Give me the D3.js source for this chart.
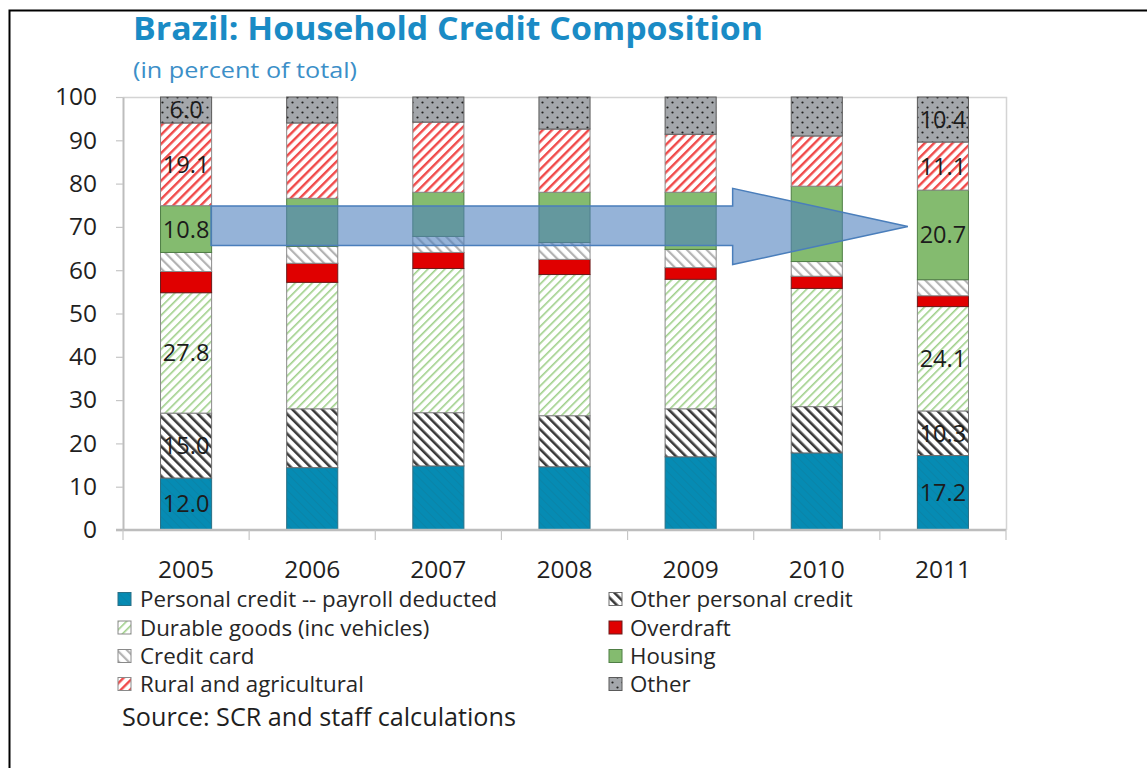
<!DOCTYPE html>
<html>
<head>
<meta charset="utf-8">
<script src="https://cdn.jsdelivr.net/npm/d3@7"></script>
<style>
  html, body { margin: 0; padding: 0; background: #fff; }
  svg { display: block; }
  text { font-family: "Open Sans", "Noto Sans", sans-serif; }
</style>
</head>
<body>
<svg id="chart" width="1147" height="768"></svg>
<script>
// ---------- DATA ----------
const years = ["2005", "2006", "2007", "2008", "2009", "2010", "2011"];
const seriesNames = [
  "Personal credit -- payroll deducted",
  "Other personal credit",
  "Durable goods (inc vehicles)",
  "Overdraft",
  "Credit card",
  "Housing",
  "Rural and agricultural",
  "Other"
];
const payroll       = [12.0, 14.4, 14.8, 14.6, 16.9, 17.8, 17.2];
const otherPersonal = [15.0, 13.6, 12.3, 11.8, 11.1, 10.7, 10.3];
const durable       = [27.8, 29.2, 33.3, 32.6, 29.9, 27.3, 24.1];
const overdraft     = [4.9, 4.4, 3.7, 3.5, 2.7, 2.8, 2.5];
const creditCard    = [4.4, 3.9, 3.7, 3.9, 4.2, 3.4, 3.7];
const housing       = [10.8, 11.1, 10.2, 11.6, 13.2, 17.4, 20.7];
const rural         = [19.1, 17.4, 16.2, 14.6, 13.4, 11.6, 11.1];
const other         = [6.0, 6.0, 5.8, 7.4, 8.6, 9.0, 10.4];
const seriesValues = [payroll, otherPersonal, durable, overdraft, creditCard, housing, rural, other];
const yTicks = [0, 10, 20, 30, 40, 50, 60, 70, 80, 90, 100];
const labelledYears = ["2005", "2011"];
const labelledSeries = [0, 1, 2, 5, 6, 7];

// ---------- LAYOUT ----------
const svg = d3.select("#chart");
const pLeft = 123, pRight = 1006, pTop = 97, pBottom = 530;

const x = d3.scaleBand().domain(years).range([pLeft, pRight]).paddingInner(0.595).paddingOuter(0.2975);
const xi = d3.scaleLinear().domain([0, years.length]).range([pLeft, pRight]);
const y = d3.scaleLinear().domain([0, 100]).range([pBottom, pTop]);

// ---------- PATTERNS ----------
const defs = svg.append("defs");
function stripe(id, color, size, width, angle, bg) {
  const p = defs.append("pattern").attr("id", id).attr("patternUnits", "userSpaceOnUse")
    .attr("width", size).attr("height", size).attr("patternTransform", `rotate(${angle})`);
  p.append("rect").attr("width", size).attr("height", size).attr("fill", bg || "#fff");
  p.append("rect").attr("x", 0).attr("y", 0).attr("width", width).attr("height", size).attr("fill", color);
}
stripe("pPayroll", "#0a84a8", 6, 1, -45, "#068bb3");
stripe("pOtherPers", "#3a3a3a", 7, 2.6, -45);
stripe("pDurable", "#9fd08a", 6, 1.6, 45);
stripe("pCard", "#b3b3b3", 7, 2.2, -45);
stripe("pRural", "#f04a4a", 6.5, 2.4, 45);
(function () {
  const p = defs.append("pattern").attr("id", "pOther").attr("patternUnits", "userSpaceOnUse")
    .attr("width", 10).attr("height", 10);
  p.append("rect").attr("width", 10).attr("height", 10).attr("fill", "#a4a7ab");
  p.append("circle").attr("cx", 2.5).attr("cy", 2.5).attr("r", 1.1).attr("fill", "#202020");
  p.append("circle").attr("cx", 7.5).attr("cy", 7.5).attr("r", 1.1).attr("fill", "#202020");
})();
const fills = ["url(#pPayroll)", "url(#pOtherPers)", "url(#pDurable)", "#e00000",
               "url(#pCard)", "#84bb6f", "url(#pRural)", "url(#pOther)"];
const strokes = ["#2a6f85", "#6d6d6d", "#8a8a8a", "#6b1a1a", "#8a8a8a", "#4f7e45", "#8a8a8a", "#5a5a5a"];

// ---------- OUTER FRAME ----------
svg.append("path").attr("d", "M1147,10.5 H9.5 V768").attr("fill", "none").attr("stroke", "#000").attr("stroke-width", 2);

// ---------- TITLE ----------
svg.append("text").attr("x", 133).attr("y", 40).attr("font-size", 31.5).attr("font-weight", 700)
  .attr("textLength", 630).attr("lengthAdjust", "spacingAndGlyphs")
  .attr("fill", "#1a8bc5").text("Brazil: Household Credit Composition");
svg.append("text").attr("x", 133).attr("y", 78).attr("font-size", 22)
  .attr("textLength", 224).attr("lengthAdjust", "spacingAndGlyphs")
  .attr("fill", "#3c8fc8").text("(in percent of total)");

// ---------- PLOT BORDER ----------
svg.append("path").attr("d", `M${pLeft},${pTop + 0.5} H${pRight + 0.5} V${pBottom}`)
  .attr("fill", "none").attr("stroke", "#d4d4d4").attr("stroke-width", 1.5);

// ---------- BARS ----------
const rows = years.map((yr, i) => {
  const r = { year: yr };
  seriesNames.forEach((s, k) => r[s] = seriesValues[k][i]);
  return r;
});
const stacked = d3.stack().keys(seriesNames)(rows);
const gBars = svg.append("g");
stacked.forEach((layer, k) => {
  gBars.selectAll(null).data(layer).enter().append("rect")
    .attr("x", d => x(d.data.year))
    .attr("width", x.bandwidth())
    .attr("y", d => y(d[1]))
    .attr("height", d => y(d[0]) - y(d[1]))
    .attr("fill", fills[k])
    .attr("stroke", strokes[k])
    .attr("stroke-width", 1);
});

// ---------- AXES ----------
const yAxis = svg.append("g").attr("transform", `translate(${pLeft},0)`)
  .call(d3.axisLeft(y).tickValues(yTicks).tickSize(7).tickSizeOuter(0).tickPadding(19));
yAxis.select(".domain").attr("stroke", "#bdbdbd").attr("stroke-width", 2);
yAxis.selectAll(".tick line").attr("stroke", "#c6c6c6").attr("stroke-width", 1.2);
yAxis.selectAll(".tick text").attr("font-size", 24.5).attr("fill", "#1f1f1f")
  .attr("font-family", "'Open Sans', sans-serif");

const xAxis = svg.append("g").attr("transform", `translate(0,${pBottom})`);
xAxis.append("line").attr("x1", pLeft - 7).attr("x2", pRight).attr("y1", 0).attr("y2", 0)
  .attr("stroke", "#bdbdbd").attr("stroke-width", 2.5);
xAxis.selectAll(null).data(d3.range(years.length + 1)).enter().append("line")
  .attr("x1", d => xi(d)).attr("x2", d => xi(d)).attr("y1", 0).attr("y2", 10)
  .attr("stroke", "#c6c6c6").attr("stroke-width", 1.2);
xAxis.selectAll(null).data(years).enter().append("text")
  .attr("x", d => x(d) + x.bandwidth() / 2).attr("y", 47.5)
  .attr("text-anchor", "middle").attr("font-size", 24.5).attr("fill", "#1f1f1f").text(d => d);

// ---------- DATA LABELS ----------
stacked.forEach((layer, k) => {
  if (!labelledSeries.includes(k)) return;
  layer.filter(d => labelledYears.includes(d.data.year)).forEach(d => {
    svg.append("text")
      .attr("x", x(d.data.year) + x.bandwidth() / 2)
      .attr("y", (y(d[0]) + y(d[1])) / 2)
      .attr("dy", "0.36em")
      .attr("text-anchor", "middle")
      .attr("font-size", 23.5)
      .attr("fill", "#1c1c1c")
      .text(d.data[seriesNames[k]].toFixed(1));
  });
});

// ---------- ARROW ----------
const ax0 = xi(0.698), ax1 = xi(4.833), ax2 = xi(6.222);
const arrowPts = [
  [ax0, y(74.8)], [ax1, y(74.8)], [ax1, y(78.9)], [ax2, y(70.1)],
  [ax1, y(61.3)], [ax1, y(65.7)], [ax0, y(65.7)]
];
svg.append("path").attr("d", d3.line()(arrowPts) + "Z")
  .attr("fill", "rgb(79,129,190)").attr("fill-opacity", 0.6)
  .attr("stroke", "#4a7ebb").attr("stroke-width", 1.5);

// ---------- LEGEND ----------
const legendRowsY = [599, 627.5, 656, 684];
const legendItems = [
  { k: 0, col: 0, row: 0 }, { k: 1, col: 1, row: 0 },
  { k: 2, col: 0, row: 1 }, { k: 3, col: 1, row: 1 },
  { k: 4, col: 0, row: 2 }, { k: 5, col: 1, row: 2 },
  { k: 6, col: 0, row: 3 }, { k: 7, col: 1, row: 3 }
];
const colSwatchX = [118, 609], colTextX = [140, 630];
const lg = svg.append("g");
legendItems.forEach(it => {
  const cy = legendRowsY[it.row];
  lg.append("rect").attr("x", colSwatchX[it.col]).attr("y", cy - 6.5).attr("width", 13).attr("height", 13)
    .attr("fill", fills[it.k]).attr("stroke", strokes[it.k]).attr("stroke-width", 1);
  lg.append("text").attr("x", colTextX[it.col]).attr("y", cy).attr("dy", "0.36em")
    .attr("font-size", 22.3).attr("fill", "#262626").text(seriesNames[it.k]);
});
svg.append("text").attr("x", 122).attr("y", 717).attr("dy", "0.36em")
  .attr("font-size", 25.2).attr("fill", "#1f1f1f").text("Source: SCR and staff calculations");
</script>
</body>
</html>
